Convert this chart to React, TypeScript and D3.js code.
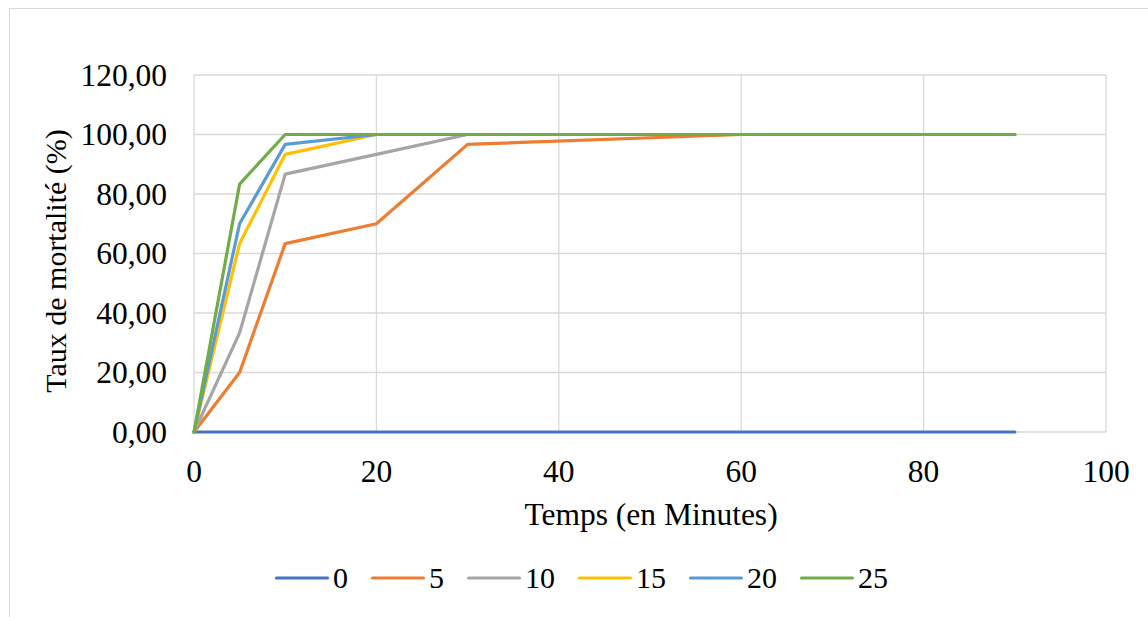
import React from "react";
import * as d3 from "d3";

const times = [0, 5, 10, 20, 30, 60, 90];
const seriesNames = ["0", "5", "10", "15", "20", "25"];
const s0 = [0, 0, 0, 0, 0, 0, 0];
const s5 = [0, 20, 63.33, 70, 96.67, 100, 100];
const s10 = [0, 33.33, 86.67, 93.33, 100, 100, 100];
const s15 = [0, 63.33, 93.33, 100, 100, 100, 100];
const s20 = [0, 70, 96.67, 100, 100, 100, 100];
const s25 = [0, 83.33, 100, 100, 100, 100, 100];
const seriesValues = [s0, s5, s10, s15, s20, s25];
const colors = ["#4472C4", "#ED7D31", "#A5A5A5", "#FFC000", "#5B9BD5", "#70AD47"];
const xTicks = [0, 20, 40, 60, 80, 100];
const yTicks = [0, 20, 40, 60, 80, 100, 120];

const W = 1148;
const H = 617;
const font = "Liberation Serif, Times New Roman, serif";
const fs = 30;
const tickFs = 31.5;

export default function App() {
  const x = d3.scaleLinear().domain([0, 100]).range([194, 1106]);
  const y = d3.scaleLinear().domain([0, 120]).range([432, 75]);
  const line = d3
    .line<number>()
    .x((_, i) => x(times[i]))
    .y((d) => y(d));
  const fmt = (v: number) => v.toFixed(2).replace(".", ",");

  // legend layout
  const digitW = 15;
  let cursor = 275;
  const legendItems = seriesNames.map((n, i) => {
    const item = { n, i, x: cursor };
    cursor += 81 + n.length * digitW;
    return item;
  });

  return (
    <svg
      width={W}
      height={H}
      style={{ position: "absolute", left: 0, top: 0, display: "block", background: "#fff" }}
    >
      <rect x={9.5} y={8.5} width={1160} height={640} fill="#fff" stroke="#d9d9d9" strokeWidth={1} />
      {yTicks.map((t) => (
        <line key={"gy" + t} x1={x(0)} x2={x(100)} y1={y(t)} y2={y(t)} stroke="#d9d9d9" strokeWidth={1.3} />
      ))}
      {xTicks.map((t) => (
        <line key={"gx" + t} x1={x(t)} x2={x(t)} y1={y(0)} y2={y(120)} stroke="#d9d9d9" strokeWidth={1.3} />
      ))}
      {yTicks.map((t) => (
        <text
          key={"ty" + t}
          x={167}
          y={y(t)}
          dy="0.34em"
          textAnchor="end"
          fontFamily={font}
          fontSize={tickFs}
          fill="#000"
        >
          {fmt(t)}
        </text>
      ))}
      {xTicks.map((t) => (
        <text
          key={"tx" + t}
          x={x(t)}
          y={482}
          textAnchor="middle"
          fontFamily={font}
          fontSize={tickFs}
          fill="#000"
        >
          {t}
        </text>
      ))}
      <text x={651} y={525} textAnchor="middle" fontFamily={font} fontSize={31.5} fill="#000">
        Temps (en Minutes)
      </text>
      <text
        transform={`translate(66,261) rotate(-90)`}
        textAnchor="middle"
        fontFamily={font}
        fontSize={fs}
        fill="#000"
      >
        Taux de mortalité (%)
      </text>
      {seriesValues.map((vals, i) => (
        <path
          key={"s" + i}
          d={line(vals) || ""}
          fill="none"
          stroke={colors[i]}
          strokeWidth={3.2}
          strokeLinejoin="round"
          strokeLinecap="round"
        />
      ))}
      {legendItems.map((it) => (
        <g key={"l" + it.i}>
          <line
            x1={it.x + 1.5}
            x2={it.x + 52.5}
            y1={578}
            y2={578}
            stroke={colors[it.i]}
            strokeWidth={3.2}
            strokeLinecap="round"
          />
          <text x={it.x + 58} y={588} fontFamily={font} fontSize={fs} fill="#000">
            {it.n}
          </text>
        </g>
      ))}
    </svg>
  );
}
